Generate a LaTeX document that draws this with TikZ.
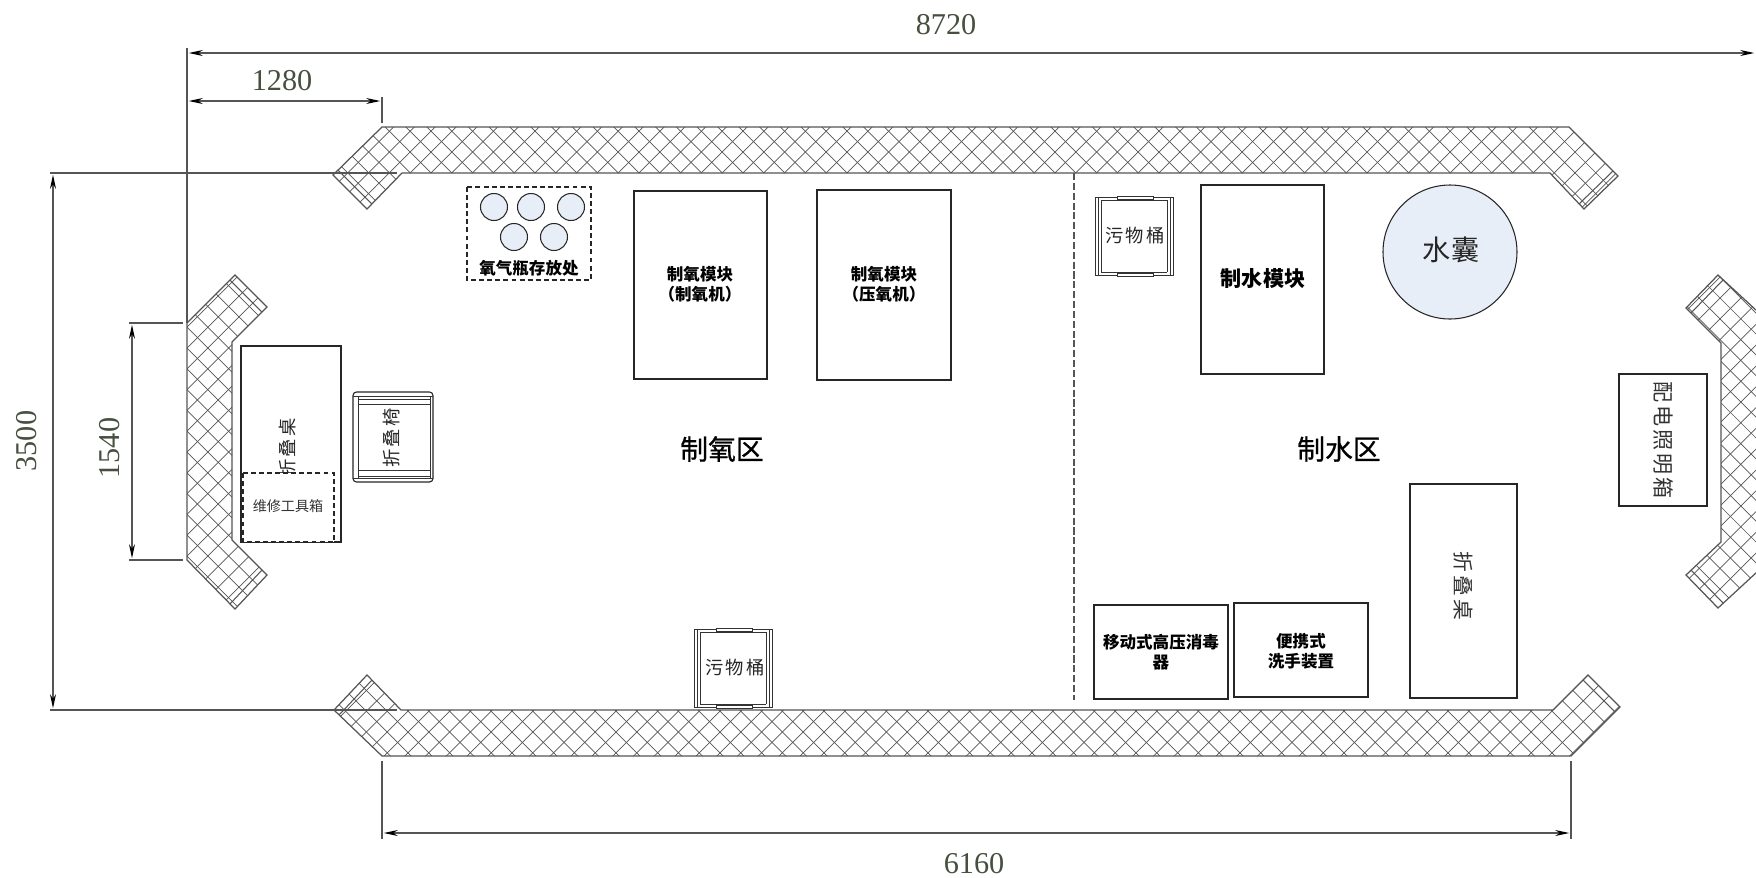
\documentclass[tikz,border=0pt]{standalone}
\usepackage{fontspec}
\setmainfont{Noto Sans CJK SC}
\newfontfamily\cnwide[LetterSpace=14]{Noto Sans CJK SC}
\newfontfamily\cnzone[FakeBold=0.8]{Noto Sans CJK SC}
\newfontfamily\dimfont{Liberation Serif}
\usetikzlibrary{arrows.meta}
\definecolor{linegray}{HTML}{555555}
\definecolor{dimtext}{HTML}{46503F}
\definecolor{tankblue}{HTML}{E8EEF7}
\tikzset{
    hatchline/.style={draw=linegray,line width=0.2pt},
    wallline/.style={draw=linegray,line width=0.35pt},
    capline/.style={draw=linegray,line width=0.3pt},
    dimline/.style={draw=linegray,line width=0.35pt},
    dimarrow/.style={dimline,{Stealth[length=4pt,width=1.7pt,black]}-{Stealth[length=4pt,width=1.7pt,black]},shorten <=0.5pt,shorten >=0.5pt},
    dimlabel/.style={text=dimtext,font=\dimfont\fontsize{8.6}{10}\selectfont},
    boxline/.style={draw=black!85,line width=0.32pt},
    dashbox/.style={draw=black!85,line width=0.3pt,dash pattern=on 1.4pt off 0.9pt},
    tank/.style={draw=black!85,line width=0.3pt,fill=tankblue},
    smallbold/.style={align=center,font=\fontsize{4.7}{5.7}\selectfont\bfseries},
    thinlabel/.style={text=black!85,font=\cnwide\fontsize{5.2}{6}\selectfont},
    zonelabel/.style={font=\cnzone\fontsize{7.9}{9}\selectfont},
    partline/.style={draw=black!80,line width=0.22pt},
    bin/.pic={
        \draw[partline] (0,0) rectangle (78,78);
        \draw[partline] (3,0) -- (3,78) (6,3) -- (6,75) (75,0) -- (75,78) (72,3) -- (72,75);
        \draw[partline] (6,3) -- (72,3) (6,75) -- (72,75);
        \draw[partline,fill=white] (22,-1) rectangle (58,2) (22,76) rectangle (58,79);
    }
}
\newcommand{\wallpart}[3]{%
    \begin{scope}
    \clip #1;
    \foreach \k in {-100,...,140} {
        \draw[hatchline] ({\k*20.8+#2},0) -- ({\k*20.8+#2+1000},1000);
        \draw[hatchline] ({\k*20.8+#3},0) -- ({\k*20.8+#3-1000},1000);
    }
    \end{scope}
    \draw[wallline] #1;
}
\begin{document}
\begin{tikzpicture}[x=0.01cm,y=-0.01cm]
    \useasboundingbox (0,0) rectangle (1756,878);
    \clip (0,0) rectangle (1756,878);

    % walls
    \wallpart{(382,127) -- (1569,127) -- (1618,176) -- (1584,209) -- (1550,173) -- (402,173) -- (367,209) -- (333,175) -- cycle}{279}{583}
    \wallpart{(382,756) -- (1571,756) -- (1620,707) -- (1588,675) -- (1553,710) -- (401,710) -- (367,675) -- (334,710) -- cycle}{-324}{1140}
    \wallpart{(187,323) -- (235,275) -- (267,307) -- (232,342) -- (232,540) -- (267,575) -- (235,609) -- (187,560) -- cycle}{-161}{535}
    \wallpart{(1770,323) -- (1718,275) -- (1686,308) -- (1721,343) -- (1721,542) -- (1686,575) -- (1718,608) -- (1770,560) -- cycle}{1318}{2122}

    % wall ends
    \foreach \ax/\ay/\bx/\by in {338/170/372/204,1613/171/1579/204,339/715/372/680,1615/712/1583/680,
        230/280/262/312,230/604/262/570,1723/280/1691/313,1723/603/1691/570} {
        \draw[capline] (\ax,\ay) -- (\bx,\by);
    }

    % dimensions
    \coordinate (topleft) at (187,53);
    \coordinate (topright) at (1756,53);
    \coordinate (wingleft) at (187,101);
    \coordinate (wingright) at (382,101);
    \coordinate (sideup) at (53,173);
    \coordinate (sidedown) at (53,710);
    \coordinate (wallup) at (132,323);
    \coordinate (walldown) at (132,560);
    \coordinate (lowleft) at (382,833);
    \coordinate (lowright) at (1571,833);
    \draw[dimline] (187,48) -- (187,323);
    \draw[dimline] (382,97) -- (382,123);
    \draw[dimline] (50,173) -- (397,173);
    \draw[dimline] (50,710) -- (397,710);
    \draw[dimline] (129,323) -- (183,323);
    \draw[dimline] (129,560) -- (183,560);
    \draw[dimline] (382,761) -- (382,839);
    \draw[dimline] (1571,761) -- (1571,839);
    \draw[dimarrow] (topleft) -- (topright);
    \draw[dimarrow] (wingleft) -- (wingright);
    \draw[dimarrow] (sideup) -- (sidedown);
    \draw[dimarrow] (wallup) -- (walldown);
    \draw[dimarrow] (lowleft) -- (lowright);
    \node[dimlabel] (dimtop) at (946,25) {8720};
    \node[dimlabel] (dimwing) at (282,81) {1280};
    \node[dimlabel,rotate=90] (dimside) at (27,441) {3500};
    \node[dimlabel,rotate=90] (dimwall) at (110,448) {1540};
    \node[dimlabel] (dimlow) at (974,864) {6160};

    % divider
    \draw[dimline,dash pattern=on 2pt off 0.8pt] (1074,173) -- (1074,700);

    % desk and chair
    \draw[boxline] (241,346) rectangle (341,542);
    \node[thinlabel,rotate=90] (desk) at (288,448) {折叠桌};
    \draw[dashbox,fill=white] (243,473) rectangle (334,542);
    \node[font=\fontsize{4}{5}\selectfont,text=black!80] (tools) at (288,506) {维修工具箱};
    \draw[boxline,rounded corners=1pt] (353,392) rectangle (433,482);
    \draw[partline] (353,396) -- (433,396) (358,399) -- (430,399) (358,404) -- (430,404);
    \draw[partline] (358,470) -- (430,470) (358,476) -- (430,476) (353,478) -- (433,478);
    \draw[partline] (358,396) -- (358,478) (430,396) -- (430,478);
    \node[thinlabel,rotate=90] (chair) at (392,438) {折叠椅};

    % oxygen bottles
    \draw[dashbox] (467,187) rectangle (591,280);
    \foreach \cx/\cy in {494/207,531/207,571/207,514/237,554/237} {
        \draw[tank] (\cx,\cy) circle [radius=13.5];
    }
    \node[smallbold] (bottles) at (529,268) {氧气瓶存放处};

    % oxygen modules
    \draw[boxline] (634,191) rectangle (767,379);
    \node[smallbold] (oxya) at (700,284) {制氧模块\\（制氧机）};
    \draw[boxline] (817,190) rectangle (951,380);
    \node[smallbold] (oxyb) at (884,284) {制氧模块\\（压氧机）};
    \node[zonelabel] (oxyzone) at (722,449) {制氧区};

    % water side
    \pic at (1095,197) {bin};
    \node[thinlabel] (bina) at (1135,236) {污物桶};
    \pic at (694,629) {bin};
    \node[thinlabel] (binb) at (735,668) {污物桶};
    \draw[boxline] (1201,185) rectangle (1324,374);
    \node[font=\fontsize{6}{7}\selectfont\bfseries] (water) at (1263,279) {制水模块};
    \draw[tank] (1450,252) circle [radius=67];
    \node[font=\fontsize{8}{9}\selectfont,text=black!85] (bag) at (1451,250) {水囊};
    \node[zonelabel] (waterzone) at (1339,449) {制水区};

    % power box
    \draw[boxline] (1619,374) rectangle (1707,506);
    \node[rotate=-90,text=black!80,font=\cnwide\fontsize{6}{7}\selectfont] (power) at (1663,440) {配电照明箱};

    % lower row
    \draw[boxline] (1094,605) rectangle (1228,699);
    \node[smallbold] (steril) at (1161,652) {移动式高压消毒\\器};
    \draw[boxline] (1234,603) rectangle (1368,697);
    \node[smallbold] (wash) at (1301,651) {便携式\\洗手装置};
    \draw[boxline] (1410,484) rectangle (1517,698);
    \node[rotate=-90,text=black!80,font=\cnwide\fontsize{5.9}{7}\selectfont] (desktwo) at (1463,586) {折叠桌};
\end{tikzpicture}
\end{document}
